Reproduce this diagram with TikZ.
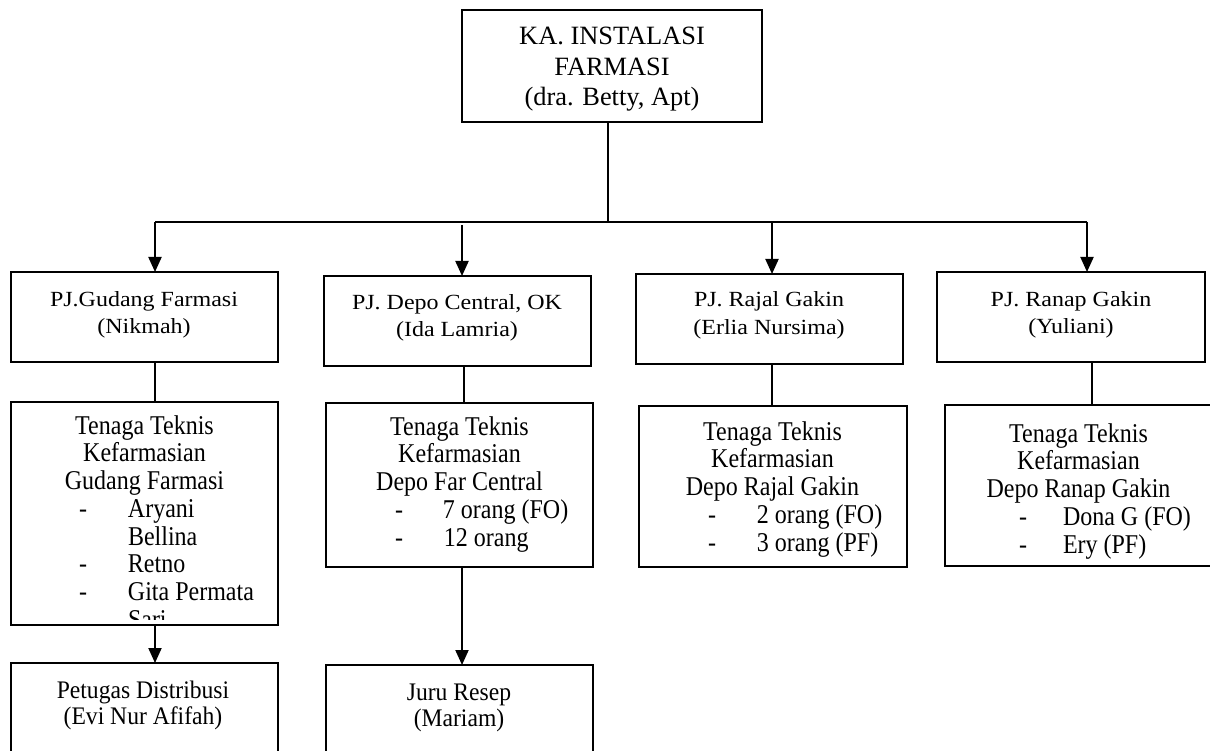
\documentclass[tikz,border=0pt]{standalone}
\usepackage{fontspec}
\setmainfont{Liberation Serif}
\usetikzlibrary{arrows.meta}
\newlength\bw \setlength\bw{267pt}
\newcommand\hd[1]{\makebox[\bw][c]{#1}}
\newcommand\itm[3]{\makebox[\bw][l]{\hspace*{#1}\makebox[0pt][c]{-}\hspace*{#2}#3}}
\newcommand\cont[2]{\makebox[\bw][l]{\hspace*{#1}#2}}
\newcommand\cl[1]{\vtop{\lineskiplimit=-\maxdimen\lineskip=0pt\halign{\hfil##\hfil\cr#1\crcr}}}
\newcommand\fA{\fontsize{26.4}{30.5}\selectfont}
\newcommand\fB{\fontsize{24}{31.1}\selectfont}
\newcommand\fC{\fontsize{24}{24.6}\selectfont}
\newcommand\fD{\fontsize{23.6}{25.2}\selectfont}
\begin{document}
\begin{tikzpicture}[x=1pt,y=-1pt,
  box/.style={draw, line width=1.5pt, rectangle, inner sep=0pt, outer sep=0pt},
  txt/.style={inner sep=0pt, outer sep=0pt},
  con/.style={line width=1.4pt},
  arr/.style={line width=2pt, -{Triangle[length=15pt,width=13pt]}}]
\clip (0,0) rectangle (1210,751);
\fill[white] (0,0) rectangle (1210,751);

% boxes
\node[box, minimum width=300pt, minimum height=112pt] (top) at (612,66) {};
\node[box, minimum width=267pt, minimum height=90pt] (l2a) at (144.5,317) {};
\node[box, minimum width=267pt, minimum height=90pt] (l2b) at (457.5,321) {};
\node[box, minimum width=267pt, minimum height=90pt] (l2c) at (769.5,319) {};
\node[box, minimum width=268pt, minimum height=90pt] (l2d) at (1071,317) {};
\node[box, minimum width=267pt, minimum height=223pt] (l3a) at (144.5,513.5) {};
\node[box, minimum width=267pt, minimum height=164pt] (l3b) at (459.5,485) {};
\node[box, minimum width=268pt, minimum height=161pt] (l3c) at (773,486.5) {};
\node[box, minimum width=267pt, minimum height=161pt] (l3d) at (1078.5,485.5) {};
\node[box, minimum width=267pt, minimum height=117pt] (l4a) at (144.5,721.5) {};
\node[box, minimum width=267pt, minimum height=115pt] (l4b) at (459.5,722.5) {};

% texts
\node[txt, anchor=base] (ttop) at (612,45) {\fA\cl{KA. INSTALASI\cr FARMASI\cr (dra. Betty, Apt)}};
\node[txt, anchor=base] (t2a) at (144,306) {\fB\scalebox{1}[0.9]{\cl{PJ.Gudang Farmasi\cr (Nikmah)}}};
\node[txt, anchor=base] (t2b) at (457,309) {\fB\scalebox{1}[0.9]{\cl{PJ. Depo Central, OK\cr (Ida Lamria)}}};
\node[txt, anchor=base] (t2c) at (769,307) {\fB\scalebox{1}[0.9]{\cl{PJ. Rajal Gakin\cr (Erlia Nursima)}}};
\node[txt, anchor=base] (t2d) at (1071,306) {\fB\scalebox{1}[0.9]{\cl{PJ. Ranap Gakin\cr (Yuliani)}}};
\begin{scope}
\clip (12,403) rectangle (277,619);
\node[txt, anchor=base west] (t3a) at (11,434) {\fC\scalebox{1}[1.13]{\cl{\hd{Tenaga Teknis}\cr \hd{Kefarmasian}\cr \hd{Gudang Farmasi}\cr
  \itm{72pt}{45pt}{Aryani}\cr \cont{117pt}{Bellina}\cr \itm{72pt}{45pt}{Retno}\cr \itm{72pt}{45pt}{Gita Permata}\cr \cont{117pt}{Sari}}}};
\end{scope}
\node[txt, anchor=base west] (t3b) at (326,435) {\fC\scalebox{1}[1.13]{\cl{\hd{Tenaga Teknis}\cr \hd{Kefarmasian}\cr \hd{Depo Far Central}\cr
  \itm{73pt}{44pt}{7 orang (FO)}\cr \itm{73pt}{45pt}{12 orang}}}};
\node[txt, anchor=base west] (t3c) at (639,440) {\fC\scalebox{1}[1.13]{\cl{\hd{Tenaga Teknis}\cr \hd{Kefarmasian}\cr \hd{Depo Rajal Gakin}\cr
  \itm{73pt}{45pt}{2 orang (FO)}\cr \itm{73pt}{45pt}{3 orang (PF)}}}};
\node[txt, anchor=base west] (t3d) at (945,442) {\fC\scalebox{1}[1.13]{\cl{\hd{Tenaga Teknis}\cr \hd{Kefarmasian}\cr \hd{Depo Ranap Gakin}\cr
  \itm{78pt}{40pt}{Dona G (FO)}\cr \itm{78pt}{40pt}{Ery (PF)}}}};
\node[txt, anchor=base] (t4a) at (143,698) {\fD\scalebox{1}[1.07]{\cl{Petugas Distribusi\cr (Evi Nur Afifah)}}};
\node[txt, anchor=base] (t4b) at (459,700) {\fD\scalebox{1}[1.07]{\cl{Juru Resep\cr (Mariam)}}};

% connectors
\coordinate (bus) at (608,222);
\coordinate (j1) at (155,222);
\coordinate (j2) at (462,222);
\coordinate (j3) at (772,222);
\coordinate (j4) at (1087,222);
\coordinate (k2) at (464,222);
\coordinate (k4) at (1092,222);
\draw[con] (top.south -| bus) -- (bus);
\draw[con] (j1) -- (j4);
\draw[arr] (j1) -- (l2a.north -| j1);
\draw[arr] ([yshift=-3pt]j2) -- (l2b.north -| j2);
\draw[arr] (j3) -- (l2c.north -| j3);
\draw[arr] (j4) -- (l2d.north -| j4);
\draw[con] (l2a.south -| j1) -- (l3a.north -| j1);
\draw[con] (l2b.south -| k2) -- (l3b.north -| k2);
\draw[con] (l2c.south -| j3) -- (l3c.north -| j3);
\draw[con] (l2d.south -| k4) -- (l3d.north -| k4);
\draw[arr] (l3a.south -| j1) -- (l4a.north -| j1);
\draw[arr] (l3b.south -| j2) -- (l4b.north -| j2);
\end{tikzpicture}
\end{document}
